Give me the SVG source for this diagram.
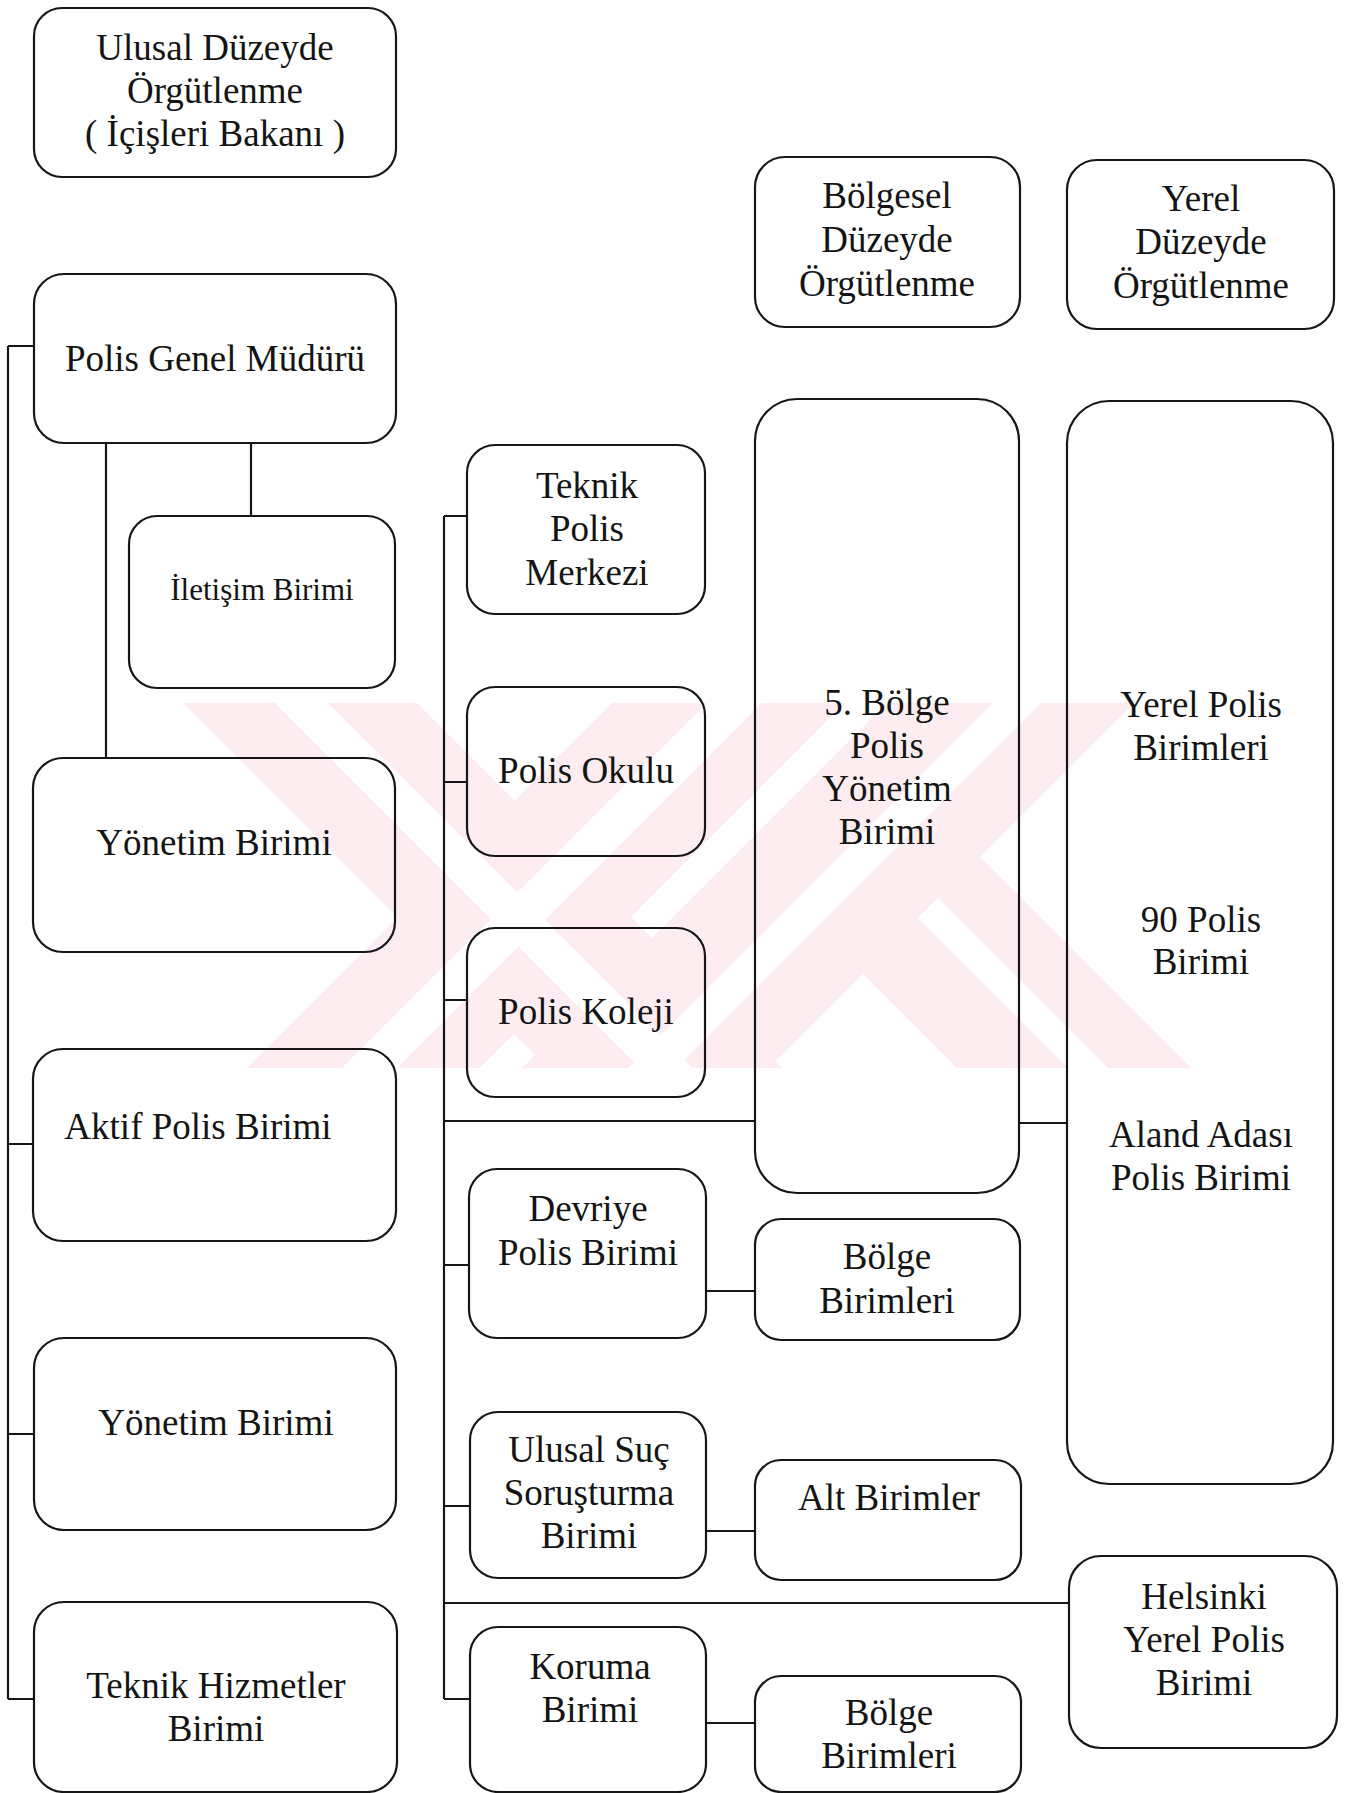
<svg xmlns="http://www.w3.org/2000/svg" width="1346" height="1793" viewBox="0 0 1346 1793">
<defs>
<style>
.box{fill:none;stroke:#161616;stroke-width:2.2}
.ln{fill:none;stroke:#161616;stroke-width:2.2}
.t{font-family:"Liberation Serif","Times New Roman",serif;font-size:37px;fill:#141414;text-anchor:middle}
.s{font-size:31px}
.wm{fill:#fdedf0}
.wl{fill:#ffffff}
</style>
<clipPath id="wmclip"><rect x="150" y="703" width="1100" height="365"/></clipPath>
</defs>
<rect x="0" y="0" width="1346" height="1793" fill="#ffffff"/>
<g id="watermark" clip-path="url(#wmclip)">
<polygon class="wm" points="183,703 417,703 782,1068 548,1068"/>
<polygon class="wm" points="612,703 845,703 480,1068 247,1068"/>
<polygon class="wm" points="887,703 1134,703 769,1068 522,1068"/>
<polygon class="wm" points="863,974 980,857 1191,1068 957,1068"/>
<polygon class="wl" points="275,703 328,703 693,1068 640,1068"/>
<polygon class="wl" points="707,703 762,703 397,1068 342,1068"/>
<polygon class="wl" points="993,703 1041,703 676,1068 628,1068"/>
<polygon class="wl" points="918,918 938,898 1108,1068 1068,1068"/>
</g>
<g id="connectors">
<path class="ln" d="M8,346 V1699 M8,346 H34 M8,1144 H33 M8,1434 H34 M8,1699 H34"/>
<path class="ln" d="M106,443 V758 M251,443 V516"/>
<path class="ln" d="M444,516 V1699 M444,516 H467 M444,782 H467 M444,1000 H467 M444,1121 H755 M444,1265 H469 M444,1506 H470 M444,1603 H1069 M444,1699 H470"/>
<path class="ln" d="M1019,1123 H1067 M706,1291 H755 M706,1531 H755 M706,1723 H755"/>
</g>
<g id="ulusal"><rect class="box" x="34" y="8" width="362" height="169" rx="28"/>
<text class="t" x="215" y="60">Ulusal Düzeyde</text><text class="t" x="215" y="103">Örgütlenme</text><text class="t" x="215" y="146">( İçişleri Bakanı )</text></g>
<g id="pgm"><rect class="box" x="34" y="274" width="362" height="169" rx="30"/>
<text class="t" x="215" y="371">Polis Genel Müdürü</text></g>
<g id="iletisim"><rect class="box" x="129" y="516" width="266" height="172" rx="28"/>
<text class="t s" x="262" y="600">İletişim Birimi</text></g>
<g id="yonetim1"><rect class="box" x="33" y="758" width="362" height="194" rx="30"/>
<text class="t" x="214" y="855">Yönetim Birimi</text></g>
<g id="aktif"><rect class="box" x="33" y="1049" width="363" height="192" rx="30"/>
<text class="t" x="198" y="1139">Aktif Polis Birimi</text></g>
<g id="yonetim2"><rect class="box" x="34" y="1338" width="362" height="192" rx="30"/>
<text class="t" x="216" y="1435">Yönetim Birimi</text></g>
<g id="teknikhiz"><rect class="box" x="34" y="1602" width="363" height="190" rx="30"/>
<text class="t" x="216" y="1698">Teknik Hizmetler</text><text class="t" x="216" y="1741">Birimi</text></g>
<g id="teknikpolis"><rect class="box" x="467" y="445" width="238" height="169" rx="28"/>
<text class="t" x="587" y="498">Teknik</text><text class="t" x="587" y="541">Polis</text><text class="t" x="587" y="585">Merkezi</text></g>
<g id="okulu"><rect class="box" x="467" y="687" width="238" height="169" rx="28"/>
<text class="t" x="586" y="783">Polis Okulu</text></g>
<g id="koleji"><rect class="box" x="467" y="928" width="238" height="169" rx="28"/>
<text class="t" x="586" y="1024">Polis Koleji</text></g>
<g id="devriye"><rect class="box" x="469" y="1169" width="237" height="169" rx="28"/>
<text class="t" x="588" y="1221">Devriye</text><text class="t" x="588" y="1265">Polis Birimi</text></g>
<g id="ulusalsuc"><rect class="box" x="470" y="1412" width="236" height="166" rx="28"/>
<text class="t" x="589" y="1462">Ulusal Suç</text><text class="t" x="589" y="1505">Soruşturma</text><text class="t" x="589" y="1548">Birimi</text></g>
<g id="koruma"><rect class="box" x="470" y="1627" width="236" height="165" rx="28"/>
<text class="t" x="590" y="1679">Koruma</text><text class="t" x="590" y="1722">Birimi</text></g>
<g id="bolgesel"><rect class="box" x="755" y="157" width="265" height="170" rx="30"/>
<text class="t" x="887" y="208">Bölgesel</text><text class="t" x="887" y="252">Düzeyde</text><text class="t" x="887" y="296">Örgütlenme</text></g>
<g id="yerel"><rect class="box" x="1067" y="160" width="267" height="169" rx="30"/>
<text class="t" x="1201" y="211">Yerel</text><text class="t" x="1201" y="254">Düzeyde</text><text class="t" x="1201" y="298">Örgütlenme</text></g>
<g id="bolge5"><rect class="box" x="755" y="399" width="264" height="794" rx="42"/>
<text class="t" x="887" y="715">5. Bölge</text><text class="t" x="887" y="758">Polis</text><text class="t" x="887" y="801">Yönetim</text><text class="t" x="887" y="844">Birimi</text></g>
<g id="yerelpolis"><rect class="box" x="1067" y="401" width="266" height="1083" rx="42"/>
<text class="t" x="1201" y="717">Yerel Polis</text><text class="t" x="1201" y="760">Birimleri</text>
<text class="t" x="1201" y="932">90 Polis</text><text class="t" x="1201" y="974">Birimi</text>
<text class="t" x="1201" y="1147">Aland Adası</text><text class="t" x="1201" y="1190">Polis Birimi</text></g>
<g id="bolgebirimleri1"><rect class="box" x="755" y="1219" width="265" height="121" rx="26"/>
<text class="t" x="887" y="1269">Bölge</text><text class="t" x="887" y="1313">Birimleri</text></g>
<g id="altbirimler"><rect class="box" x="755" y="1460" width="266" height="120" rx="26"/>
<text class="t" x="889" y="1510">Alt Birimler</text></g>
<g id="helsinki"><rect class="box" x="1069" y="1556" width="268" height="192" rx="32"/>
<text class="t" x="1204" y="1609">Helsinki</text><text class="t" x="1204" y="1652">Yerel Polis</text><text class="t" x="1204" y="1695">Birimi</text></g>
<g id="bolgebirimleri2"><rect class="box" x="755" y="1676" width="266" height="116" rx="26"/>
<text class="t" x="889" y="1725">Bölge</text><text class="t" x="889" y="1768">Birimleri</text></g>
</svg>
